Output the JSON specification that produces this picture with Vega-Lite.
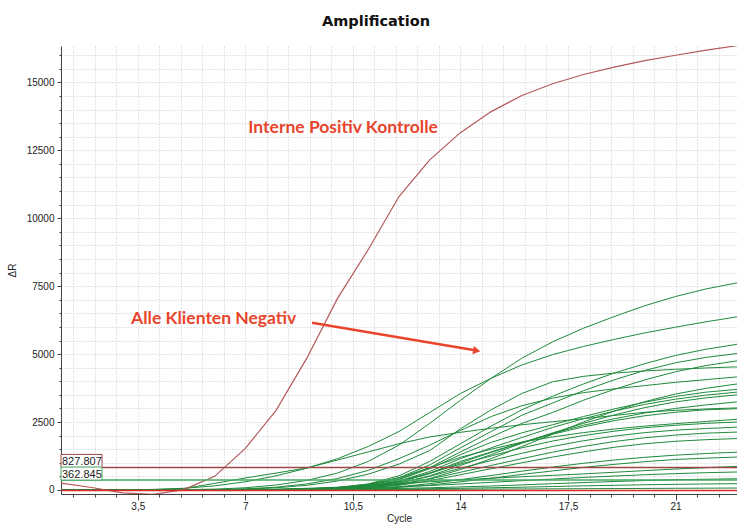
{
"$schema": "https://vega.github.io/schema/vega-lite/v6.json",
"width": 676, "height": 448,
"autosize": {"type": "none"},
"padding": {"left": 61, "top": 46, "right": 0, "bottom": 30},
"background": "white",
"title": {"text": "Amplification", "font": "DejaVu Sans", "fontSize": 14.5, "fontWeight": "bold", "color": "#111111", "anchor": "middle", "frame": "group", "offset": 6, "dx": -23, "baseline": "alphabetic"},
"config": {
 "view": {"stroke": null},
 "axisX": {"grid":true,"gridColor":"#c8c8c8","gridDash":[1,2],"gridWidth":1,"domainColor":"#444444","tickColor":"#444444","tickSize":6,"labelFont":"Liberation Sans","labelFontSize":10,"labelColor":"#222222","labelPadding":1,"labelOverlap":false,"labelFlush":false,"titleFont":"Liberation Sans","titleFontSize":10,"titleFontWeight":"normal","titleColor":"#222222","titlePadding":2},
 "axisY": {"grid":true,"gridColor":"#c8c8c8","gridDash":[1,2],"gridWidth":1,"domainColor":"#444444","tickColor":"#444444","tickSize":4,"labelFont":"Liberation Sans","labelFontSize":10,"labelColor":"#222222","labelPadding":3,"labelOverlap":false,"labelFlush":false,"titleFont":"Liberation Sans","titleFontSize":10,"titleFontWeight":"normal","titleColor":"#222222","titlePadding":9}
},
"datasets": {
"greens": [
{"s":"g1","c":1,"v":0},{"s":"g1","c":2,"v":0},{"s":"g1","c":3,"v":0},{"s":"g1","c":4,"v":0},{"s":"g1","c":5,"v":10},{"s":"g1","c":6,"v":30},{"s":"g1","c":7,"v":80},{"s":"g1","c":8,"v":180},{"s":"g1","c":9,"v":350},{"s":"g1","c":10,"v":620},{"s":"g1","c":11,"v":1050},{"s":"g1","c":12,"v":1650},{"s":"g1","c":13,"v":2450},{"s":"g1","c":14,"v":3300},{"s":"g1","c":15,"v":4110},{"s":"g1","c":16,"v":4850},{"s":"g1","c":17,"v":5450},{"s":"g1","c":18,"v":5950},{"s":"g1","c":19,"v":6380},{"s":"g1","c":20,"v":6780},{"s":"g1","c":21,"v":7120},{"s":"g1","c":22,"v":7400},{"s":"g1","c":23,"v":7620},
{"s":"g2","c":1,"v":0},{"s":"g2","c":2,"v":0},{"s":"g2","c":3,"v":0},{"s":"g2","c":4,"v":20},{"s":"g2","c":5,"v":60},{"s":"g2","c":6,"v":150},{"s":"g2","c":7,"v":300},{"s":"g2","c":8,"v":520},{"s":"g2","c":9,"v":800},{"s":"g2","c":10,"v":1150},{"s":"g2","c":11,"v":1600},{"s":"g2","c":12,"v":2150},{"s":"g2","c":13,"v":2850},{"s":"g2","c":14,"v":3550},{"s":"g2","c":15,"v":4110},{"s":"g2","c":16,"v":4600},{"s":"g2","c":17,"v":4980},{"s":"g2","c":18,"v":5280},{"s":"g2","c":19,"v":5540},{"s":"g2","c":20,"v":5780},{"s":"g2","c":21,"v":5990},{"s":"g2","c":22,"v":6190},{"s":"g2","c":23,"v":6370},
{"s":"g3","c":1,"v":0},{"s":"g3","c":2,"v":0},{"s":"g3","c":3,"v":0},{"s":"g3","c":4,"v":10},{"s":"g3","c":5,"v":50},{"s":"g3","c":6,"v":240},{"s":"g3","c":7,"v":440},{"s":"g3","c":8,"v":620},{"s":"g3","c":9,"v":810},{"s":"g3","c":10,"v":1100},{"s":"g3","c":11,"v":1400},{"s":"g3","c":12,"v":1700},{"s":"g3","c":13,"v":1950},{"s":"g3","c":14,"v":2120},{"s":"g3","c":15,"v":2270},{"s":"g3","c":16,"v":2400},{"s":"g3","c":17,"v":2510},{"s":"g3","c":18,"v":2620},{"s":"g3","c":19,"v":2740},{"s":"g3","c":20,"v":2860},{"s":"g3","c":21,"v":2930},{"s":"g3","c":22,"v":2980},{"s":"g3","c":23,"v":3020},
{"s":"g4","c":1,"v":0},{"s":"g4","c":2,"v":0},{"s":"g4","c":3,"v":0},{"s":"g4","c":4,"v":0},{"s":"g4","c":5,"v":0},{"s":"g4","c":6,"v":10},{"s":"g4","c":7,"v":30},{"s":"g4","c":8,"v":80},{"s":"g4","c":9,"v":170},{"s":"g4","c":10,"v":330},{"s":"g4","c":11,"v":580},{"s":"g4","c":12,"v":950},{"s":"g4","c":13,"v":1450},{"s":"g4","c":14,"v":2250},{"s":"g4","c":15,"v":2950},{"s":"g4","c":16,"v":3550},{"s":"g4","c":17,"v":3980},{"s":"g4","c":18,"v":4180},{"s":"g4","c":19,"v":4300},{"s":"g4","c":20,"v":4380},{"s":"g4","c":21,"v":4440},{"s":"g4","c":22,"v":4490},{"s":"g4","c":23,"v":4530},
{"s":"g5","c":1,"v":0},{"s":"g5","c":2,"v":0},{"s":"g5","c":3,"v":0},{"s":"g5","c":4,"v":0},{"s":"g5","c":5,"v":0},{"s":"g5","c":6,"v":10},{"s":"g5","c":7,"v":40},{"s":"g5","c":8,"v":100},{"s":"g5","c":9,"v":220},{"s":"g5","c":10,"v":420},{"s":"g5","c":11,"v":720},{"s":"g5","c":12,"v":1150},{"s":"g5","c":13,"v":1650},{"s":"g5","c":14,"v":2190},{"s":"g5","c":15,"v":2700},{"s":"g5","c":16,"v":3100},{"s":"g5","c":17,"v":3380},{"s":"g5","c":18,"v":3580},{"s":"g5","c":19,"v":3720},{"s":"g5","c":20,"v":3840},{"s":"g5","c":21,"v":3960},{"s":"g5","c":22,"v":4060},{"s":"g5","c":23,"v":4160},
{"s":"g6","c":1,"v":0},{"s":"g6","c":2,"v":0},{"s":"g6","c":3,"v":0},{"s":"g6","c":4,"v":0},{"s":"g6","c":5,"v":0},{"s":"g6","c":6,"v":0},{"s":"g6","c":7,"v":5},{"s":"g6","c":8,"v":15},{"s":"g6","c":9,"v":40},{"s":"g6","c":10,"v":90},{"s":"g6","c":11,"v":220},{"s":"g6","c":12,"v":520},{"s":"g6","c":13,"v":1050},{"s":"g6","c":14,"v":1700},{"s":"g6","c":15,"v":2350},{"s":"g6","c":16,"v":2950},{"s":"g6","c":17,"v":3450},{"s":"g6","c":18,"v":3900},{"s":"g6","c":19,"v":4300},{"s":"g6","c":20,"v":4650},{"s":"g6","c":21,"v":4950},{"s":"g6","c":22,"v":5180},{"s":"g6","c":23,"v":5360},
{"s":"g7","c":1,"v":0},{"s":"g7","c":2,"v":0},{"s":"g7","c":3,"v":0},{"s":"g7","c":4,"v":0},{"s":"g7","c":5,"v":0},{"s":"g7","c":6,"v":0},{"s":"g7","c":7,"v":5},{"s":"g7","c":8,"v":15},{"s":"g7","c":9,"v":35},{"s":"g7","c":10,"v":80},{"s":"g7","c":11,"v":190},{"s":"g7","c":12,"v":450},{"s":"g7","c":13,"v":920},{"s":"g7","c":14,"v":1550},{"s":"g7","c":15,"v":2150},{"s":"g7","c":16,"v":2750},{"s":"g7","c":17,"v":3200},{"s":"g7","c":18,"v":3650},{"s":"g7","c":19,"v":4050},{"s":"g7","c":20,"v":4400},{"s":"g7","c":21,"v":4680},{"s":"g7","c":22,"v":4880},{"s":"g7","c":23,"v":5020},
{"s":"g8","c":1,"v":0},{"s":"g8","c":2,"v":0},{"s":"g8","c":3,"v":0},{"s":"g8","c":4,"v":0},{"s":"g8","c":5,"v":0},{"s":"g8","c":6,"v":0},{"s":"g8","c":7,"v":5},{"s":"g8","c":8,"v":10},{"s":"g8","c":9,"v":30},{"s":"g8","c":10,"v":70},{"s":"g8","c":11,"v":170},{"s":"g8","c":12,"v":400},{"s":"g8","c":13,"v":820},{"s":"g8","c":14,"v":1400},{"s":"g8","c":15,"v":1950},{"s":"g8","c":16,"v":2450},{"s":"g8","c":17,"v":2850},{"s":"g8","c":18,"v":3300},{"s":"g8","c":19,"v":3700},{"s":"g8","c":20,"v":4050},{"s":"g8","c":21,"v":4350},{"s":"g8","c":22,"v":4580},{"s":"g8","c":23,"v":4750},
{"s":"g9","c":1,"v":0},{"s":"g9","c":2,"v":0},{"s":"g9","c":3,"v":0},{"s":"g9","c":4,"v":0},{"s":"g9","c":5,"v":0},{"s":"g9","c":6,"v":0},{"s":"g9","c":7,"v":5},{"s":"g9","c":8,"v":10},{"s":"g9","c":9,"v":30},{"s":"g9","c":10,"v":65},{"s":"g9","c":11,"v":160},{"s":"g9","c":12,"v":380},{"s":"g9","c":13,"v":780},{"s":"g9","c":14,"v":1300},{"s":"g9","c":15,"v":1750},{"s":"g9","c":16,"v":2100},{"s":"g9","c":17,"v":2400},{"s":"g9","c":18,"v":2700},{"s":"g9","c":19,"v":2980},{"s":"g9","c":20,"v":3230},{"s":"g9","c":21,"v":3440},{"s":"g9","c":22,"v":3600},{"s":"g9","c":23,"v":3700},
{"s":"g10","c":1,"v":0},{"s":"g10","c":2,"v":0},{"s":"g10","c":3,"v":0},{"s":"g10","c":4,"v":0},{"s":"g10","c":5,"v":0},{"s":"g10","c":6,"v":0},{"s":"g10","c":7,"v":5},{"s":"g10","c":8,"v":10},{"s":"g10","c":9,"v":25},{"s":"g10","c":10,"v":60},{"s":"g10","c":11,"v":140},{"s":"g10","c":12,"v":330},{"s":"g10","c":13,"v":680},{"s":"g10","c":14,"v":1150},{"s":"g10","c":15,"v":1550},{"s":"g10","c":16,"v":1930},{"s":"g10","c":17,"v":2300},{"s":"g10","c":18,"v":2620},{"s":"g10","c":19,"v":2900},{"s":"g10","c":20,"v":3150},{"s":"g10","c":21,"v":3340},{"s":"g10","c":22,"v":3490},{"s":"g10","c":23,"v":3600},
{"s":"g11","c":1,"v":0},{"s":"g11","c":2,"v":0},{"s":"g11","c":3,"v":0},{"s":"g11","c":4,"v":0},{"s":"g11","c":5,"v":0},{"s":"g11","c":6,"v":0},{"s":"g11","c":7,"v":0},{"s":"g11","c":8,"v":5},{"s":"g11","c":9,"v":20},{"s":"g11","c":10,"v":45},{"s":"g11","c":11,"v":100},{"s":"g11","c":12,"v":240},{"s":"g11","c":13,"v":520},{"s":"g11","c":14,"v":900},{"s":"g11","c":15,"v":1300},{"s":"g11","c":16,"v":1720},{"s":"g11","c":17,"v":2100},{"s":"g11","c":18,"v":2450},{"s":"g11","c":19,"v":2760},{"s":"g11","c":20,"v":3030},{"s":"g11","c":21,"v":3240},{"s":"g11","c":22,"v":3390},{"s":"g11","c":23,"v":3500},
{"s":"g12","c":1,"v":0},{"s":"g12","c":2,"v":0},{"s":"g12","c":3,"v":0},{"s":"g12","c":4,"v":0},{"s":"g12","c":5,"v":0},{"s":"g12","c":6,"v":0},{"s":"g12","c":7,"v":5},{"s":"g12","c":8,"v":10},{"s":"g12","c":9,"v":25},{"s":"g12","c":10,"v":55},{"s":"g12","c":11,"v":130},{"s":"g12","c":12,"v":300},{"s":"g12","c":13,"v":620},{"s":"g12","c":14,"v":1050},{"s":"g12","c":15,"v":1400},{"s":"g12","c":16,"v":1750},{"s":"g12","c":17,"v":2080},{"s":"g12","c":18,"v":2380},{"s":"g12","c":19,"v":2620},{"s":"g12","c":20,"v":2830},{"s":"g12","c":21,"v":3000},{"s":"g12","c":22,"v":3130},{"s":"g12","c":23,"v":3240},
{"s":"g13","c":1,"v":0},{"s":"g13","c":2,"v":0},{"s":"g13","c":3,"v":0},{"s":"g13","c":4,"v":0},{"s":"g13","c":5,"v":0},{"s":"g13","c":6,"v":0},{"s":"g13","c":7,"v":5},{"s":"g13","c":8,"v":15},{"s":"g13","c":9,"v":40},{"s":"g13","c":10,"v":90},{"s":"g13","c":11,"v":210},{"s":"g13","c":12,"v":450},{"s":"g13","c":13,"v":820},{"s":"g13","c":14,"v":1200},{"s":"g13","c":15,"v":1500},{"s":"g13","c":16,"v":1760},{"s":"g13","c":17,"v":1950},{"s":"g13","c":18,"v":2110},{"s":"g13","c":19,"v":2240},{"s":"g13","c":20,"v":2350},{"s":"g13","c":21,"v":2440},{"s":"g13","c":22,"v":2520},{"s":"g13","c":23,"v":2600},
{"s":"g14","c":1,"v":0},{"s":"g14","c":2,"v":0},{"s":"g14","c":3,"v":0},{"s":"g14","c":4,"v":0},{"s":"g14","c":5,"v":0},{"s":"g14","c":6,"v":0},{"s":"g14","c":7,"v":5},{"s":"g14","c":8,"v":10},{"s":"g14","c":9,"v":25},{"s":"g14","c":10,"v":60},{"s":"g14","c":11,"v":140},{"s":"g14","c":12,"v":320},{"s":"g14","c":13,"v":620},{"s":"g14","c":14,"v":950},{"s":"g14","c":15,"v":1250},{"s":"g14","c":16,"v":1550},{"s":"g14","c":17,"v":1800},{"s":"g14","c":18,"v":2000},{"s":"g14","c":19,"v":2160},{"s":"g14","c":20,"v":2290},{"s":"g14","c":21,"v":2380},{"s":"g14","c":22,"v":2450},{"s":"g14","c":23,"v":2500},
{"s":"g15","c":1,"v":0},{"s":"g15","c":2,"v":0},{"s":"g15","c":3,"v":0},{"s":"g15","c":4,"v":0},{"s":"g15","c":5,"v":0},{"s":"g15","c":6,"v":0},{"s":"g15","c":7,"v":5},{"s":"g15","c":8,"v":10},{"s":"g15","c":9,"v":20},{"s":"g15","c":10,"v":50},{"s":"g15","c":11,"v":110},{"s":"g15","c":12,"v":250},{"s":"g15","c":13,"v":500},{"s":"g15","c":14,"v":800},{"s":"g15","c":15,"v":1080},{"s":"g15","c":16,"v":1350},{"s":"g15","c":17,"v":1600},{"s":"g15","c":18,"v":1810},{"s":"g15","c":19,"v":1980},{"s":"g15","c":20,"v":2110},{"s":"g15","c":21,"v":2200},{"s":"g15","c":22,"v":2260},{"s":"g15","c":23,"v":2310},
{"s":"g16","c":1,"v":0},{"s":"g16","c":2,"v":0},{"s":"g16","c":3,"v":0},{"s":"g16","c":4,"v":0},{"s":"g16","c":5,"v":0},{"s":"g16","c":6,"v":0},{"s":"g16","c":7,"v":0},{"s":"g16","c":8,"v":5},{"s":"g16","c":9,"v":15},{"s":"g16","c":10,"v":40},{"s":"g16","c":11,"v":90},{"s":"g16","c":12,"v":200},{"s":"g16","c":13,"v":400},{"s":"g16","c":14,"v":650},{"s":"g16","c":15,"v":900},{"s":"g16","c":16,"v":1150},{"s":"g16","c":17,"v":1390},{"s":"g16","c":18,"v":1600},{"s":"g16","c":19,"v":1780},{"s":"g16","c":20,"v":1920},{"s":"g16","c":21,"v":2020},{"s":"g16","c":22,"v":2090},{"s":"g16","c":23,"v":2130},
{"s":"g17","c":1,"v":0},{"s":"g17","c":2,"v":0},{"s":"g17","c":3,"v":0},{"s":"g17","c":4,"v":0},{"s":"g17","c":5,"v":0},{"s":"g17","c":6,"v":0},{"s":"g17","c":7,"v":0},{"s":"g17","c":8,"v":5},{"s":"g17","c":9,"v":15},{"s":"g17","c":10,"v":35},{"s":"g17","c":11,"v":80},{"s":"g17","c":12,"v":170},{"s":"g17","c":13,"v":340},{"s":"g17","c":14,"v":560},{"s":"g17","c":15,"v":780},{"s":"g17","c":16,"v":1000},{"s":"g17","c":17,"v":1210},{"s":"g17","c":18,"v":1400},{"s":"g17","c":19,"v":1570},{"s":"g17","c":20,"v":1700},{"s":"g17","c":21,"v":1790},{"s":"g17","c":22,"v":1850},{"s":"g17","c":23,"v":1890},
{"s":"g18","c":1,"v":0},{"s":"g18","c":2,"v":0},{"s":"g18","c":3,"v":0},{"s":"g18","c":4,"v":0},{"s":"g18","c":5,"v":0},{"s":"g18","c":6,"v":0},{"s":"g18","c":7,"v":0},{"s":"g18","c":8,"v":5},{"s":"g18","c":9,"v":10},{"s":"g18","c":10,"v":25},{"s":"g18","c":11,"v":55},{"s":"g18","c":12,"v":120},{"s":"g18","c":13,"v":230},{"s":"g18","c":14,"v":380},{"s":"g18","c":15,"v":530},{"s":"g18","c":16,"v":690},{"s":"g18","c":17,"v":840},{"s":"g18","c":18,"v":980},{"s":"g18","c":19,"v":1100},{"s":"g18","c":20,"v":1200},{"s":"g18","c":21,"v":1280},{"s":"g18","c":22,"v":1340},{"s":"g18","c":23,"v":1390},
{"s":"g19","c":1,"v":0},{"s":"g19","c":2,"v":0},{"s":"g19","c":3,"v":0},{"s":"g19","c":4,"v":0},{"s":"g19","c":5,"v":0},{"s":"g19","c":6,"v":0},{"s":"g19","c":7,"v":0},{"s":"g19","c":8,"v":5},{"s":"g19","c":9,"v":10},{"s":"g19","c":10,"v":20},{"s":"g19","c":11,"v":45},{"s":"g19","c":12,"v":95},{"s":"g19","c":13,"v":180},{"s":"g19","c":14,"v":300},{"s":"g19","c":15,"v":430},{"s":"g19","c":16,"v":570},{"s":"g19","c":17,"v":700},{"s":"g19","c":18,"v":830},{"s":"g19","c":19,"v":940},{"s":"g19","c":20,"v":1040},{"s":"g19","c":21,"v":1120},{"s":"g19","c":22,"v":1170},{"s":"g19","c":23,"v":1210},
{"s":"g20","c":1,"v":0},{"s":"g20","c":2,"v":0},{"s":"g20","c":3,"v":0},{"s":"g20","c":4,"v":0},{"s":"g20","c":5,"v":0},{"s":"g20","c":6,"v":5},{"s":"g20","c":7,"v":15},{"s":"g20","c":8,"v":30},{"s":"g20","c":9,"v":60},{"s":"g20","c":10,"v":100},{"s":"g20","c":11,"v":160},{"s":"g20","c":12,"v":230},{"s":"g20","c":13,"v":300},{"s":"g20","c":14,"v":370},{"s":"g20","c":15,"v":430},{"s":"g20","c":16,"v":485},{"s":"g20","c":17,"v":535},{"s":"g20","c":18,"v":590},{"s":"g20","c":19,"v":650},{"s":"g20","c":20,"v":710},{"s":"g20","c":21,"v":770},{"s":"g20","c":22,"v":820},{"s":"g20","c":23,"v":865},
{"s":"g21","c":1,"v":0},{"s":"g21","c":2,"v":0},{"s":"g21","c":3,"v":0},{"s":"g21","c":4,"v":0},{"s":"g21","c":5,"v":0},{"s":"g21","c":6,"v":0},{"s":"g21","c":7,"v":5},{"s":"g21","c":8,"v":10},{"s":"g21","c":9,"v":20},{"s":"g21","c":10,"v":40},{"s":"g21","c":11,"v":70},{"s":"g21","c":12,"v":110},{"s":"g21","c":13,"v":160},{"s":"g21","c":14,"v":220},{"s":"g21","c":15,"v":280},{"s":"g21","c":16,"v":340},{"s":"g21","c":17,"v":400},{"s":"g21","c":18,"v":460},{"s":"g21","c":19,"v":510},{"s":"g21","c":20,"v":560},{"s":"g21","c":21,"v":600},{"s":"g21","c":22,"v":635},{"s":"g21","c":23,"v":660},
{"s":"g22","c":1,"v":0},{"s":"g22","c":2,"v":0},{"s":"g22","c":3,"v":0},{"s":"g22","c":4,"v":0},{"s":"g22","c":5,"v":0},{"s":"g22","c":6,"v":0},{"s":"g22","c":7,"v":0},{"s":"g22","c":8,"v":5},{"s":"g22","c":9,"v":10},{"s":"g22","c":10,"v":20},{"s":"g22","c":11,"v":35},{"s":"g22","c":12,"v":55},{"s":"g22","c":13,"v":80},{"s":"g22","c":14,"v":110},{"s":"g22","c":15,"v":145},{"s":"g22","c":16,"v":185},{"s":"g22","c":17,"v":230},{"s":"g22","c":18,"v":270},{"s":"g22","c":19,"v":310},{"s":"g22","c":20,"v":345},{"s":"g22","c":21,"v":375},{"s":"g22","c":22,"v":395},{"s":"g22","c":23,"v":410},
{"s":"g23","c":1,"v":0},{"s":"g23","c":2,"v":0},{"s":"g23","c":3,"v":0},{"s":"g23","c":4,"v":0},{"s":"g23","c":5,"v":0},{"s":"g23","c":6,"v":0},{"s":"g23","c":7,"v":0},{"s":"g23","c":8,"v":0},{"s":"g23","c":9,"v":5},{"s":"g23","c":10,"v":10},{"s":"g23","c":11,"v":20},{"s":"g23","c":12,"v":30},{"s":"g23","c":13,"v":45},{"s":"g23","c":14,"v":60},{"s":"g23","c":15,"v":80},{"s":"g23","c":16,"v":100},{"s":"g23","c":17,"v":125},{"s":"g23","c":18,"v":150},{"s":"g23","c":19,"v":170},{"s":"g23","c":20,"v":190},{"s":"g23","c":21,"v":205},{"s":"g23","c":22,"v":220},{"s":"g23","c":23,"v":230},
{"s":"g24","c":1,"v":0},{"s":"g24","c":2,"v":0},{"s":"g24","c":3,"v":0},{"s":"g24","c":4,"v":0},{"s":"g24","c":5,"v":0},{"s":"g24","c":6,"v":0},{"s":"g24","c":7,"v":0},{"s":"g24","c":8,"v":0},{"s":"g24","c":9,"v":0},{"s":"g24","c":10,"v":5},{"s":"g24","c":11,"v":10},{"s":"g24","c":12,"v":15},{"s":"g24","c":13,"v":20},{"s":"g24","c":14,"v":25},{"s":"g24","c":15,"v":30},{"s":"g24","c":16,"v":35},{"s":"g24","c":17,"v":40},{"s":"g24","c":18,"v":45},{"s":"g24","c":19,"v":50},{"s":"g24","c":20,"v":55},{"s":"g24","c":21,"v":60},{"s":"g24","c":22,"v":65},{"s":"g24","c":23,"v":70},
{"s":"g25","c":1,"v":0},{"s":"g25","c":2,"v":0},{"s":"g25","c":3,"v":0},{"s":"g25","c":4,"v":0},{"s":"g25","c":5,"v":0},{"s":"g25","c":6,"v":0},{"s":"g25","c":7,"v":5},{"s":"g25","c":8,"v":10},{"s":"g25","c":9,"v":25},{"s":"g25","c":10,"v":55},{"s":"g25","c":11,"v":125},{"s":"g25","c":12,"v":290},{"s":"g25","c":13,"v":600},{"s":"g25","c":14,"v":1000},{"s":"g25","c":15,"v":1380},{"s":"g25","c":16,"v":1740},{"s":"g25","c":17,"v":2050},{"s":"g25","c":18,"v":2320},{"s":"g25","c":19,"v":2550},{"s":"g25","c":20,"v":2730},{"s":"g25","c":21,"v":2860},{"s":"g25","c":22,"v":2950},{"s":"g25","c":23,"v":2990},
{"s":"g26","c":1,"v":0},{"s":"g26","c":2,"v":0},{"s":"g26","c":3,"v":0},{"s":"g26","c":4,"v":0},{"s":"g26","c":5,"v":0},{"s":"g26","c":6,"v":0},{"s":"g26","c":7,"v":0},{"s":"g26","c":8,"v":5},{"s":"g26","c":9,"v":15},{"s":"g26","c":10,"v":35},{"s":"g26","c":11,"v":85},{"s":"g26","c":12,"v":200},{"s":"g26","c":13,"v":420},{"s":"g26","c":14,"v":750},{"s":"g26","c":15,"v":1150},{"s":"g26","c":16,"v":1600},{"s":"g26","c":17,"v":2050},{"s":"g26","c":18,"v":2500},{"s":"g26","c":19,"v":2900},{"s":"g26","c":20,"v":3250},{"s":"g26","c":21,"v":3530},{"s":"g26","c":22,"v":3740},{"s":"g26","c":23,"v":3900}
],
"pos": [
{"c":1,"v":250},{"c":2,"v":90},{"c":3,"v":-110},{"c":4,"v":-165},{"c":5,"v":10},{"c":6,"v":500},{"c":7,"v":1530},{"c":8,"v":2930},{"c":9,"v":4850},{"c":10,"v":7050},{"c":11,"v":8850},{"c":12,"v":10800},{"c":13,"v":12150},{"c":14,"v":13150},{"c":15,"v":13925},{"c":16,"v":14520},{"c":17,"v":14950},{"c":18,"v":15290},{"c":19,"v":15560},{"c":20,"v":15800},{"c":21,"v":16000},{"c":22,"v":16190},{"c":23,"v":16350}
],
"ntc": [{"c":1,"v":-25},{"c":23,"v":-25}],
"thr": [{"label":"827.807","v":827.807,"k":"pos"},{"label":"362.845","v":362.845,"k":"neg"}],
"ann": [{"t":"Interne Positiv Kontrolle","c":10.18,"v":13305},{"t":"Alle Klienten Negativ","c":5.97,"v":6294}],
"arrow": [{"c":9.17,"v":6157},{"c":14.47,"v":5138}],
"head": [{"c":14.53,"v":5123}]
},
"layer": [
{"data":{"name":"greens"},
 "mark":{"type":"line","color":"#1f8a3b","strokeWidth":1,"clip":true},
 "encoding":{
  "x":{"field":"c","type":"quantitative","scale":{"domain":[1,23],"nice":false,"zero":false},"axis":{"values":[1.4,2.1,2.8,3.5,4.2,4.9,5.6,6.3,7,7.7,8.4,9.1,9.8,10.5,11.2,11.9,12.6,13.3,14,14.7,15.4,16.1,16.8,17.5,18.2,18.9,19.6,20.3,21,21.7,22.4],"labelExpr":"abs(datum.value/3.5-round(datum.value/3.5))<0.01 ? replace(format(datum.value,'~g'),'.',',') : ''","tickDash":{"condition":{"test":"abs(datum.value/3.5-round(datum.value/3.5))<0.01","value":[8,0]},"value":[3,20]},"title":"Cycle"}},
  "y":{"field":"v","type":"quantitative","scale":{"domain":[-150,16340],"nice":false,"zero":false},"axis":{"values":[0,500,1000,1500,2000,2500,3000,3500,4000,4500,5000,5500,6000,6500,7000,7500,8000,8500,9000,9500,10000,10500,11000,11500,12000,12500,13000,13500,14000,14500,15000,15500,16000],"labelExpr":"datum.value % 2500 == 0 ? format(datum.value,'d') : ''","tickDash":{"condition":{"test":"datum.value % 2500 == 0","value":[8,0]},"value":[2,20]},"title":"ΔR"}},
  "detail":{"field":"s"}
 }},
{"data":{"name":"pos"},
 "mark":{"type":"line","color":"#b35a5c","strokeWidth":1.2,"clip":true},
 "encoding":{
  "x":{"field":"c","type":"quantitative","scale":{"domain":[1,23],"nice":false,"zero":false},"axis":{"values":[1.4,2.1,2.8,3.5,4.2,4.9,5.6,6.3,7,7.7,8.4,9.1,9.8,10.5,11.2,11.9,12.6,13.3,14,14.7,15.4,16.1,16.8,17.5,18.2,18.9,19.6,20.3,21,21.7,22.4],"labelExpr":"abs(datum.value/3.5-round(datum.value/3.5))<0.01 ? replace(format(datum.value,'~g'),'.',',') : ''","tickDash":{"condition":{"test":"abs(datum.value/3.5-round(datum.value/3.5))<0.01","value":[8,0]},"value":[3,20]},"title":"Cycle"}},
  "y":{"field":"v","type":"quantitative","scale":{"domain":[-150,16340],"nice":false,"zero":false},"axis":{"values":[0,500,1000,1500,2000,2500,3000,3500,4000,4500,5000,5500,6000,6500,7000,7500,8000,8500,9000,9500,10000,10500,11000,11500,12000,12500,13000,13500,14000,14500,15000,15500,16000],"labelExpr":"datum.value % 2500 == 0 ? format(datum.value,'d') : ''","tickDash":{"condition":{"test":"datum.value % 2500 == 0","value":[8,0]},"value":[2,20]},"title":"ΔR"}}
 }},
{"data":{"name":"ntc"},
 "mark":{"type":"line","color":"#e02b2b","strokeWidth":1.5,"clip":true},
 "encoding":{
  "x":{"field":"c","type":"quantitative","scale":{"domain":[1,23],"nice":false,"zero":false},"axis":{"values":[1.4,2.1,2.8,3.5,4.2,4.9,5.6,6.3,7,7.7,8.4,9.1,9.8,10.5,11.2,11.9,12.6,13.3,14,14.7,15.4,16.1,16.8,17.5,18.2,18.9,19.6,20.3,21,21.7,22.4],"labelExpr":"abs(datum.value/3.5-round(datum.value/3.5))<0.01 ? replace(format(datum.value,'~g'),'.',',') : ''","tickDash":{"condition":{"test":"abs(datum.value/3.5-round(datum.value/3.5))<0.01","value":[8,0]},"value":[3,20]},"title":"Cycle"}},
  "y":{"field":"v","type":"quantitative","scale":{"domain":[-150,16340],"nice":false,"zero":false},"axis":{"values":[0,500,1000,1500,2000,2500,3000,3500,4000,4500,5000,5500,6000,6500,7000,7500,8000,8500,9000,9500,10000,10500,11000,11500,12000,12500,13000,13500,14000,14500,15000,15500,16000],"labelExpr":"datum.value % 2500 == 0 ? format(datum.value,'d') : ''","tickDash":{"condition":{"test":"datum.value % 2500 == 0","value":[8,0]},"value":[2,20]},"title":"ΔR"}}
 }},
{"data":{"name":"thr"},
 "mark":{"type":"rule","strokeWidth":1.4},
 "encoding":{
  "y":{"field":"v","type":"quantitative","scale":{"domain":[-150,16340],"nice":false,"zero":false},"axis":{"values":[0,500,1000,1500,2000,2500,3000,3500,4000,4500,5000,5500,6000,6500,7000,7500,8000,8500,9000,9500,10000,10500,11000,11500,12000,12500,13000,13500,14000,14500,15000,15500,16000],"labelExpr":"datum.value % 2500 == 0 ? format(datum.value,'d') : ''","tickDash":{"condition":{"test":"datum.value % 2500 == 0","value":[8,0]},"value":[2,20]},"title":"ΔR"}},
  "color":{"field":"k","type":"nominal","scale":{"domain":["pos","neg"],"range":["#9c4646","#45a862"]},"legend":null}
 }},
{"data":{"name":"thr"},
 "mark":{"type":"rect","fill":"white","strokeWidth":1,"x2Offset":41,"y2Offset":-13},
 "encoding":{
  "x":{"datum":1,"type":"quantitative","scale":{"domain":[1,23],"nice":false,"zero":false},"axis":{"values":[1.4,2.1,2.8,3.5,4.2,4.9,5.6,6.3,7,7.7,8.4,9.1,9.8,10.5,11.2,11.9,12.6,13.3,14,14.7,15.4,16.1,16.8,17.5,18.2,18.9,19.6,20.3,21,21.7,22.4],"labelExpr":"abs(datum.value/3.5-round(datum.value/3.5))<0.01 ? replace(format(datum.value,'~g'),'.',',') : ''","tickDash":{"condition":{"test":"abs(datum.value/3.5-round(datum.value/3.5))<0.01","value":[8,0]},"value":[3,20]},"title":"Cycle"}},
  "x2":{"datum":1},
  "y":{"field":"v","type":"quantitative","scale":{"domain":[-150,16340],"nice":false,"zero":false},"axis":{"values":[0,500,1000,1500,2000,2500,3000,3500,4000,4500,5000,5500,6000,6500,7000,7500,8000,8500,9000,9500,10000,10500,11000,11500,12000,12500,13000,13500,14000,14500,15000,15500,16000],"labelExpr":"datum.value % 2500 == 0 ? format(datum.value,'d') : ''","tickDash":{"condition":{"test":"datum.value % 2500 == 0","value":[8,0]},"value":[2,20]},"title":"ΔR"}},
  "y2":{"field":"v"},
  "stroke":{"field":"k","type":"nominal","scale":{"domain":["pos","neg"],"range":["#9c4646","#45a862"]},"legend":null}
 }},
{"data":{"name":"thr"},
 "mark":{"type":"text","align":"left","baseline":"alphabetic","dx":1,"dy":-2,"font":"Liberation Sans","fontSize":11,"color":"#222222"},
 "encoding":{
  "x":{"datum":1,"type":"quantitative","scale":{"domain":[1,23],"nice":false,"zero":false},"axis":{"values":[1.4,2.1,2.8,3.5,4.2,4.9,5.6,6.3,7,7.7,8.4,9.1,9.8,10.5,11.2,11.9,12.6,13.3,14,14.7,15.4,16.1,16.8,17.5,18.2,18.9,19.6,20.3,21,21.7,22.4],"labelExpr":"abs(datum.value/3.5-round(datum.value/3.5))<0.01 ? replace(format(datum.value,'~g'),'.',',') : ''","tickDash":{"condition":{"test":"abs(datum.value/3.5-round(datum.value/3.5))<0.01","value":[8,0]},"value":[3,20]},"title":"Cycle"}},
  "y":{"field":"v","type":"quantitative","scale":{"domain":[-150,16340],"nice":false,"zero":false},"axis":{"values":[0,500,1000,1500,2000,2500,3000,3500,4000,4500,5000,5500,6000,6500,7000,7500,8000,8500,9000,9500,10000,10500,11000,11500,12000,12500,13000,13500,14000,14500,15000,15500,16000],"labelExpr":"datum.value % 2500 == 0 ? format(datum.value,'d') : ''","tickDash":{"condition":{"test":"datum.value % 2500 == 0","value":[8,0]},"value":[2,20]},"title":"ΔR"}},
  "text":{"field":"label"}
 }},
{"data":{"name":"ann"},
 "mark":{"type":"text","align":"center","baseline":"middle","font":"Lato","fontWeight":"bold","fontSize":17.5,"color":"#e8452c"},
 "encoding":{
  "x":{"field":"c","type":"quantitative","scale":{"domain":[1,23],"nice":false,"zero":false},"axis":{"values":[1.4,2.1,2.8,3.5,4.2,4.9,5.6,6.3,7,7.7,8.4,9.1,9.8,10.5,11.2,11.9,12.6,13.3,14,14.7,15.4,16.1,16.8,17.5,18.2,18.9,19.6,20.3,21,21.7,22.4],"labelExpr":"abs(datum.value/3.5-round(datum.value/3.5))<0.01 ? replace(format(datum.value,'~g'),'.',',') : ''","tickDash":{"condition":{"test":"abs(datum.value/3.5-round(datum.value/3.5))<0.01","value":[8,0]},"value":[3,20]},"title":"Cycle"}},
  "y":{"field":"v","type":"quantitative","scale":{"domain":[-150,16340],"nice":false,"zero":false},"axis":{"values":[0,500,1000,1500,2000,2500,3000,3500,4000,4500,5000,5500,6000,6500,7000,7500,8000,8500,9000,9500,10000,10500,11000,11500,12000,12500,13000,13500,14000,14500,15000,15500,16000],"labelExpr":"datum.value % 2500 == 0 ? format(datum.value,'d') : ''","tickDash":{"condition":{"test":"datum.value % 2500 == 0","value":[8,0]},"value":[2,20]},"title":"ΔR"}},
  "text":{"field":"t"}
 }},
{"data":{"name":"arrow"},
 "mark":{"type":"line","color":"#e8452c","strokeWidth":2.5},
 "encoding":{
  "x":{"field":"c","type":"quantitative","scale":{"domain":[1,23],"nice":false,"zero":false},"axis":{"values":[1.4,2.1,2.8,3.5,4.2,4.9,5.6,6.3,7,7.7,8.4,9.1,9.8,10.5,11.2,11.9,12.6,13.3,14,14.7,15.4,16.1,16.8,17.5,18.2,18.9,19.6,20.3,21,21.7,22.4],"labelExpr":"abs(datum.value/3.5-round(datum.value/3.5))<0.01 ? replace(format(datum.value,'~g'),'.',',') : ''","tickDash":{"condition":{"test":"abs(datum.value/3.5-round(datum.value/3.5))<0.01","value":[8,0]},"value":[3,20]},"title":"Cycle"}},
  "y":{"field":"v","type":"quantitative","scale":{"domain":[-150,16340],"nice":false,"zero":false},"axis":{"values":[0,500,1000,1500,2000,2500,3000,3500,4000,4500,5000,5500,6000,6500,7000,7500,8000,8500,9000,9500,10000,10500,11000,11500,12000,12500,13000,13500,14000,14500,15000,15500,16000],"labelExpr":"datum.value % 2500 == 0 ? format(datum.value,'d') : ''","tickDash":{"condition":{"test":"datum.value % 2500 == 0","value":[8,0]},"value":[2,20]},"title":"ΔR"}}
 }},
{"data":{"name":"head"},
 "mark":{"type":"point","shape":"triangle-right","angle":10,"size":70,"filled":true,"color":"#e8452c","opacity":1},
 "encoding":{
  "x":{"field":"c","type":"quantitative","scale":{"domain":[1,23],"nice":false,"zero":false},"axis":{"values":[1.4,2.1,2.8,3.5,4.2,4.9,5.6,6.3,7,7.7,8.4,9.1,9.8,10.5,11.2,11.9,12.6,13.3,14,14.7,15.4,16.1,16.8,17.5,18.2,18.9,19.6,20.3,21,21.7,22.4],"labelExpr":"abs(datum.value/3.5-round(datum.value/3.5))<0.01 ? replace(format(datum.value,'~g'),'.',',') : ''","tickDash":{"condition":{"test":"abs(datum.value/3.5-round(datum.value/3.5))<0.01","value":[8,0]},"value":[3,20]},"title":"Cycle"}},
  "y":{"field":"v","type":"quantitative","scale":{"domain":[-150,16340],"nice":false,"zero":false},"axis":{"values":[0,500,1000,1500,2000,2500,3000,3500,4000,4500,5000,5500,6000,6500,7000,7500,8000,8500,9000,9500,10000,10500,11000,11500,12000,12500,13000,13500,14000,14500,15000,15500,16000],"labelExpr":"datum.value % 2500 == 0 ? format(datum.value,'d') : ''","tickDash":{"condition":{"test":"datum.value % 2500 == 0","value":[8,0]},"value":[2,20]},"title":"ΔR"}}
 }}
]
}
